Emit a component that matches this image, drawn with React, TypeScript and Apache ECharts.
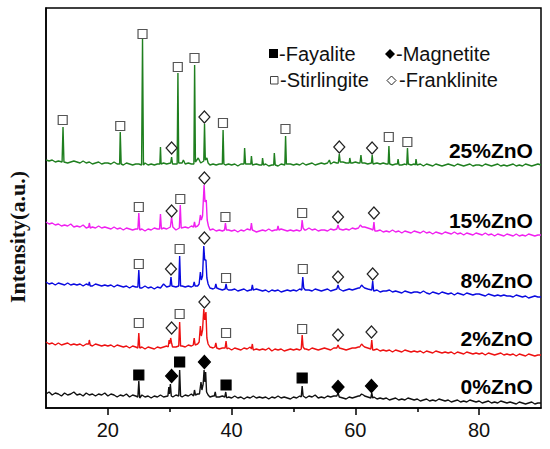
import React, { useEffect, useRef } from "react";
import * as echarts from "echarts";

// 2θ sampling of the hand-read backgrounds
const TT_START = 10;
const TT_STEP = 0.5;

const samples = ["25%ZnO", "15%ZnO", "8%ZnO", "2%ZnO", "0%ZnO"];
const offsets = [240, 170, 110, 52, 4];
const colors = ["#1f7f1f", "#f020f0", "#0a0ae0", "#ee1111", "#111111"];

// Backgrounds (relative intensity, a.u.), 10° → 90° every 0.5°
const bg25 = [
  8,7,8,6,7,6,7,5,6,7, 6,5,7,5,6,4,5,6,4,5, 5,4,6,4,5,3,5,4,3,4, 4,3,5,3,4,3,4,3,5,4,
  4,5,4,3,5,4,5,4,5,6, 5,4,5,3,4,3,4,2,3,4, 3,4,2,4,3,4,2,3,4,3, 3,4,2,3,4,2,4,3,2,4,
  3,4,3,5,3,4,5,3,4,5, 4,5,4,6,5,4,6,5,4,5, 6,5,6,5,4,5,6,5,4,5, 4,5,3,4,5,3,4,5,3,4,
  3,4,2,4,3,2,4,3,2,3, 4,3,2,4,3,2,3,4,2,3, 3,2,4,3,2,3,4,2,3,2, 3,4,2,3,2,4,3,2,3,4, 3,
];
const bg15 = [
  16,14,15,13,14,12,13,12,14,11, 12,11,13,10,12,11,10,12,10,11, 10,9,11,9,10,8,10,9,8,9, 8,9,7,9,8,10,9,8,10,9,
  10,9,8,10,9,11,10,12,11,12, 12,11,10,8,9,7,8,7,9,8, 7,8,6,8,7,9,7,8,6,7, 8,7,9,7,8,7,9,8,7,8,
  7,8,7,9,8,10,8,9,7,8, 8,7,9,8,10,9,8,9,8,10, 9,11,12,11,10,9,8,7,8,6, 7,6,8,6,7,5,7,6,5,7,
  6,5,7,5,6,4,6,5,4,6, 5,4,6,4,5,3,5,4,3,5, 4,3,5,3,4,2,4,3,2,4, 3,2,4,2,3,2,4,3,2,3, 3,
];
const bg8 = [
  16,14,15,13,15,14,13,15,13,14, 13,14,12,14,13,12,14,13,12,13, 12,13,11,13,12,11,12,10,12,11, 11,10,12,10,11,9,11,10,12,11,
  11,12,11,10,12,11,12,11,13,12, 13,12,11,10,9,10,9,8,9,8, 8,9,7,8,9,7,8,7,9,8, 7,8,6,8,7,8,6,7,8,7,
  8,7,9,8,7,8,7,9,8,7, 8,9,7,8,9,8,7,8,9,8, 9,10,11,10,9,8,7,8,6,7, 7,8,6,7,6,5,7,6,5,6,
  6,5,7,5,4,6,5,4,6,5, 4,5,3,5,4,3,5,4,3,4, 4,3,2,4,3,2,3,2,3,2, 2,1,3,2,1,2,0,1,2,1, 1,
];
const bg2 = [
  14,12,13,11,13,11,12,13,11,12, 11,12,10,12,11,10,12,11,10,11, 10,11,9,11,10,9,10,8,10,9, 8,9,7,9,8,7,9,8,9,10,
  9,10,9,8,10,9,11,10,11,12, 12,11,10,9,8,9,7,8,7,8, 6,8,7,6,8,7,9,6,7,6, 7,6,8,5,7,6,7,5,6,7,
  6,7,6,8,7,6,8,7,6,7, 8,7,6,8,7,9,7,6,7,8, 8,9,10,9,8,7,6,7,5,6, 5,6,4,6,5,4,6,5,4,5,
  4,5,3,5,4,3,5,4,3,4, 3,4,2,4,3,2,4,3,2,3, 2,3,1,3,2,1,2,3,1,2, 1,2,0,2,1,0,2,1,0,1, 1,
];
const bg0 = [
  10,12,9,11,10,8,11,9,10,12, 9,10,8,11,9,10,8,10,9,11, 8,10,9,7,9,8,10,7,9,8, 7,9,7,8,6,8,7,9,7,8,
  8,7,9,8,7,9,8,10,9,10, 10,9,8,7,8,6,7,8,6,7, 6,8,6,7,5,7,6,8,6,7, 6,7,5,7,6,8,6,7,6,5,
  7,6,8,7,6,8,7,9,6,7, 6,8,7,8,6,7,6,5,7,6, 7,8,9,8,7,6,7,5,6,5, 6,4,5,6,4,5,4,6,5,4,
  5,3,4,5,3,4,3,5,4,3, 4,2,3,4,2,3,2,4,3,2, 3,1,2,3,1,2,1,3,2,1, 2,1,0,2,1,0,1,2,0,1, 1,
];

// Diffraction peaks: [2θ, relative intensity] (incl. feet)
const pk25 = [
  [12.6,6],[12.75,41],[12.9,6],
  [21.9,4],[22.0,36],[22.15,4],
  [25.45,3],[25.6,129],[25.75,3],
  [28.4,4],[28.5,21],[28.6,4],
  [30.15,5],[30.3,11],[30.45,4],
  [31.2,4],[31.32,95],[31.45,5],
  [32.2,8],
  [33.9,4],[34.02,103],[34.15,6],
  [34.6,10],
  [35.5,7],[35.62,44],[35.75,8],[36.0,10],[36.2,5],
  [38.5,4],[38.62,38],[38.75,4],
  [42.0,4],[42.1,20],[42.25,4],
  [43.1,4],[43.2,12],[43.35,3],
  [44.9,3],[45.0,10],[45.15,3],
  [46.8,3],[46.9,15],[47.05,3],
  [48.6,3],[48.72,32],[48.85,4],
  [55.8,8],
  [57.25,5],[57.4,14],[57.55,6],
  [59.0,5],[59.1,10],[59.25,5],
  [60.75,5],[60.9,13],[61.05,5],
  [62.6,5],[62.72,13],[62.85,4],
  [65.3,4],[65.42,22],[65.55,4],
  [66.8,4],[66.9,9],[67.05,3],
  [68.3,3],[68.42,20],[68.55,4],
  [69.7,3],[69.8,9],[69.95,3],
];
const pk15 = [
  [16.9,11],[17.0,15],[17.15,10],
  [24.85,9],[25.0,25],[25.15,8],
  [28.35,9],[28.5,24],[28.65,9],
  [30.1,11],[30.3,21],[30.5,11],
  [31.55,10],[31.7,33],[31.85,10],
  [33.85,11],[34.0,16],[34.15,11],
  [34.75,14],[34.95,23],[35.1,18],[35.3,22],[35.55,53],[35.7,36],[35.9,38],[36.05,18],[36.25,12],
  [38.85,8],[39.0,15],[39.15,8],
  [43.05,8],[43.2,15],[43.35,8],
  [47.35,8],[47.5,12],[47.65,8],
  [51.25,8],[51.4,18],[51.55,10],[51.8,8],
  [57.0,9],[57.2,13],[57.4,9],
  [60.5,10],[60.8,13],[61.1,11],
  [62.85,8],[63.0,16],[63.15,7],
];
const pk8 = [
  [16.9,13],[17.0,16],[17.15,12],
  [24.85,11],[25.0,28],[25.15,10],
  [29.0,14],
  [30.05,12],[30.2,21],[30.35,12],
  [31.45,12],[31.6,42],[31.75,12],
  [33.8,12],[33.95,16],[34.1,12],
  [34.75,14],[34.95,26],[35.1,18],[35.3,22],[35.5,52],[35.65,38],[35.85,38],[36.0,20],[36.2,14],
  [37.3,10],[37.45,14],[37.6,10],
  [38.95,9],[39.1,14],[39.25,9],
  [43.2,8],[43.35,13],[43.5,8],
  [51.35,8],[51.5,21],[51.65,10],[51.9,8],
  [57.0,9],[57.2,13],[57.4,9],
  [60.7,10],[61.0,13],[61.3,11],
  [62.65,8],[62.8,17],[62.95,7],
];
const pk2 = [
  [16.9,12],[17.0,16],[17.15,11],
  [24.85,8],[25.0,23],[25.15,8],
  [29.75,9],[29.9,16],[30.0,12],[30.15,18],[30.3,13],[30.45,9],
  [31.45,10],[31.6,34],[31.75,10],
  [33.8,11],[33.95,18],[34.1,11],
  [34.75,14],[34.95,30],[35.1,20],[35.3,26],[35.5,47],[35.65,36],[35.85,44],[36.0,18],[36.2,12],
  [37.3,9],[37.45,13],[37.6,8],
  [38.95,8],[39.1,15],[39.25,7],
  [43.2,7],[43.35,12],[43.5,6],
  [51.25,7],[51.4,21],[51.55,9],[51.8,7],
  [57.0,8],[57.2,11],[57.4,8],
  [60.7,9],[61.0,12],[61.3,10],
  [62.5,7],[62.65,16],[62.8,6],
];
const pk0 = [
  [24.85,7],[25.0,23],[25.15,6],
  [29.7,8],[29.85,17],[29.95,10],[30.1,20],[30.25,8],
  [31.45,8],[31.6,34],[31.75,8],
  [33.85,8],[34.0,14],[34.15,9],
  [34.8,10],[35.05,22],[35.2,14],[35.4,20],[35.55,34],[35.68,22],[35.8,32],[35.95,12],[36.2,9],
  [37.2,8],[37.35,12],[37.5,7],
  [38.9,7],[39.05,12],[39.2,6],
  [51.25,7],[51.4,18],[51.55,8],[51.8,7],
  [57.0,8],[57.2,11],[57.4,7],
  [60.7,8],[61.0,10],[61.3,9],
  [62.5,6],[62.65,11],[62.8,6],
];

const backgrounds = [bg25, bg15, bg8, bg2, bg0];
const peaks = [pk25, pk15, pk8, pk2, pk0];

// Phase markers [2θ, stacked intensity]
const stirlingite = [
  [12.7,288],[22.0,282],[25.6,374],[31.3,341],[34.0,350],[38.6,285],[48.7,279],[65.4,271],[68.4,266],
  [25.0,201],[31.7,209],[39.0,191],[51.4,195],
  [25.0,144],[31.6,159],[39.1,130],[51.5,139],
  [25.0,85],[31.6,94],[39.1,75],[51.4,79],
];
const franklinite = [
  [30.3,260],[35.6,291],[57.4,261],[62.7,260],
  [30.3,197],[35.6,230],[57.2,191],[63.0,195],
  [30.2,139],[35.6,170],[57.2,131],[62.8,134],
  [30.3,80],[35.6,106],[57.2,73],[62.6,76],
];
const fayalite = [[25.0,33],[31.6,46],[39.1,23],[51.4,30]];
const magnetite = [[30.3,32],[35.6,46],[57.2,21],[62.6,22]];

const xTickValues = [20, 40, 60, 80];
const xMinorValues = [30, 50, 70];

function buildTrace(bg: number[], pk: number[][], offset: number) {
  const pts: number[][] = [];
  bg.forEach((v, i) => {
    const x = TT_START + i * TT_STEP;
    if (pk.some((p) => Math.abs(p[0] - x) < 0.2)) return;
    pts.push([x, v + offset]);
  });
  pk.forEach((p) => pts.push([p[0], p[1] + offset]));
  pts.sort((a, b) => a[0] - b[0]);
  return pts;
}

const SANS = '"Liberation Sans", Arial, Helvetica, sans-serif';
const SERIF = '"Liberation Serif", "Times New Roman", serif';

export default function App() {
  const ref = useRef<HTMLDivElement>(null);
  useEffect(() => {
    if (!ref.current) return;
    const chart = echarts.init(ref.current, null, { renderer: "svg" });
    const lineSeries = samples.map((s, i) => ({
      type: "line",
      name: s,
      data: buildTrace(backgrounds[i], peaks[i], offsets[i]),
      showSymbol: false,
      symbol: "none",
      lineStyle: { color: colors[i], width: 1.4 },
      silent: true,
      z: 2,
    }));
    const markerSeries = [
      { data: stirlingite, symbol: "rect", size: 9, fill: "#fff", border: "#555" },
      { data: franklinite, symbol: "diamond", size: [11, 12], fill: "#fff", border: "#222" },
      { data: fayalite, symbol: "rect", size: 10, fill: "#000", border: "#000" },
      { data: magnetite, symbol: "diamond", size: [12, 13], fill: "#000", border: "#000" },
    ].map((m) => ({
      type: "scatter",
      data: m.data,
      symbol: m.symbol,
      symbolSize: m.size,
      itemStyle: { color: m.fill, borderColor: m.border, borderWidth: 1.2, opacity: 1 },
      silent: true,
      z: 5,
    }));
    const labelSeries = {
      type: "scatter",
      symbolSize: 0,
      silent: true,
      itemStyle: { opacity: 1 },
      data: samples.map((s, i) => ({ name: s, value: [88.7, offsets[i] + 18] })),
      label: {
        show: true,
        position: "left",
        distance: 0,
        formatter: (p: any) => p.name,
        fontFamily: SANS,
        fontWeight: "bold",
        fontSize: 21,
        color: "#000",
        opacity: 1,
      },
      z: 6,
    };
    chart.setOption({
      animation: false,
      grid: {
        left: 46,
        top: 8,
        right: 9,
        bottom: 41,
        show: true,
        borderColor: "#000",
        borderWidth: 1.5,
        backgroundColor: "transparent",
      },
      xAxis: [
        {
          type: "value",
          min: 10,
          max: 90,
          interval: 10,
          axisLine: { show: true, lineStyle: { color: "#000", width: 1.5 } },
          axisTick: {
            show: true,
            inside: false,
            length: 7,
            customValues: xTickValues,
            lineStyle: { color: "#000", width: 1.5 },
          },
          axisLabel: {
            show: true,
            customValues: xTickValues,
            margin: 12,
            fontFamily: SANS,
            fontSize: 20,
            color: "#111",
          },
          splitLine: { show: false },
        },
        {
          type: "value",
          position: "bottom",
          min: 10,
          max: 90,
          interval: 10,
          axisLine: { show: false },
          axisTick: {
            show: true,
            inside: false,
            length: 4,
            customValues: xMinorValues,
            lineStyle: { color: "#000", width: 1.5 },
          },
          axisLabel: { show: false },
          splitLine: { show: false },
        },
      ],
      yAxis: {
        type: "value",
        min: 0,
        max: 400,
        axisLine: { show: true, lineStyle: { color: "#000", width: 1.5 } },
        axisTick: { show: false },
        axisLabel: { show: false },
        splitLine: { show: false },
      },
      series: [...lineSeries, ...markerSeries, labelSeries],
      graphic: [
        {
          type: "text",
          x: 17,
          y: 237,
          rotation: Math.PI / 2,
          style: {
            text: "Intensity(a.u.)",
            font: `bold 22px ${SERIF}`,
            fill: "#111",
            align: "center",
            verticalAlign: "middle",
          },
        },
        { type: "rect", shape: { x: 269, y: 49, width: 9, height: 9 }, style: { fill: "#000" } },
        {
          type: "text",
          x: 279,
          y: 54,
          style: { text: "-Fayalite", font: `20px ${SANS}`, fill: "#111", verticalAlign: "middle" },
        },
        {
          type: "polygon",
          shape: { points: [[390, 49], [395, 54], [390, 59], [385, 54]] },
          style: { fill: "#000" },
        },
        {
          type: "text",
          x: 396,
          y: 54,
          style: { text: "-Magnetite", font: `20px ${SANS}`, fill: "#111", verticalAlign: "middle" },
        },
        {
          type: "rect",
          shape: { x: 270.5, y: 76.5, width: 7.5, height: 7.5 },
          style: { fill: "#fff", stroke: "#444", lineWidth: 1 },
        },
        {
          type: "text",
          x: 280,
          y: 80,
          style: { text: "-Stirlingite", font: `20px ${SANS}`, fill: "#111", verticalAlign: "middle" },
        },
        {
          type: "polygon",
          shape: { points: [[391.5, 76], [396, 80.5], [391.5, 85], [387, 80.5]] },
          style: { fill: "#fff", stroke: "#222", lineWidth: 1 },
        },
        {
          type: "text",
          x: 399,
          y: 80,
          style: { text: "-Franklinite", font: `20px ${SANS}`, fill: "#111", verticalAlign: "middle" },
        },
      ],
    });
    return () => chart.dispose();
  }, []);
  return (
    <div
      ref={ref}
      style={{ position: "fixed", left: 0, top: 0, width: 550, height: 449, background: "#fff" }}
    />
  );
}
